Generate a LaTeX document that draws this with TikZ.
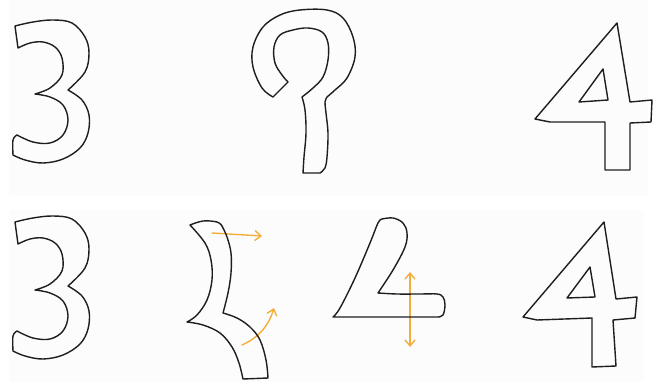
\documentclass[tikz,border=0pt]{standalone}
\usetikzlibrary{arrows.meta}
\definecolor{panelbg}{HTML}{FCFCFC}
\definecolor{inkc}{HTML}{1E1E1E}
\definecolor{orangec}{HTML}{F2AE3C}
\tikzset{
  glyph/.style={draw=inkc, line width=1.4pt, line join=round, line cap=round},
  hint/.style={draw=orangec, line width=1.4pt, line cap=round, -{Straight Barb[length=6pt,width=10pt]}},
  hintboth/.style={draw=orangec, line width=1.4pt, line cap=round, {Straight Barb[length=6pt,width=10pt]}-{Straight Barb[length=6pt,width=10pt]}},
  panel/.style={fill=panelbg, draw=none}
}
\newcommand{\threeglyph}{%
  \draw[glyph] plot[smooth, tension=0.6] coordinates {(15,26) (33,22) (53,20) (72,23) (85,37) (89,53) (85,72) (68,90)}
    -- plot[smooth, tension=0.6] coordinates {(68,90) (82,100) (89,115) (88,133) (80,148) (63,159) (43,163) (25,160) (13,155)}
    -- plot[smooth, tension=0.6] coordinates {(13,155) (13,140) (17,135)}
    -- plot[smooth, tension=0.6] coordinates {(17,135) (33,142) (50,143) (63,135) (68,120) (63,105) (50,97) (35,94)}
    -- plot[smooth, tension=0.6] coordinates {(35,94) (50,88) (62,75) (62,58) (55,47) (43,42) (30,43) (18,48)}
    -- cycle;}
\begin{document}
\begin{tikzpicture}[x=1pt, y=-1pt]
\useasboundingbox (0,0) rectangle (658,382);
\fill[white] (0,0) rectangle (658,382);
\path[panel] (9,0) rectangle (648,196);
\path[panel] (9,210) rectangle (644,382);

% top row
\threeglyph
\begin{scope}[yshift=-196pt]
\threeglyph
\end{scope}

% question-mark-like glyph
\draw[glyph] plot[smooth, tension=0.6] coordinates {(273,97) (262,88) (253,67) (253,47) (263,27) (280,15) (300,10) (327,10) (343,18) (353,37) (355,57) (347,78) (335,90) (327,97)}
  -- plot[smooth, tension=0.6] coordinates {(327,97) (325,102) (326,113) (328,133) (327,157) (325,168) (320,173)}
  -- (303,173)
  -- plot[smooth, tension=0.6] coordinates {(303,173) (304,157) (306,133) (305,110) (302,97)}
  -- plot[smooth, tension=0.6] coordinates {(302,97) (313,88) (323,77) (328,60) (328,43) (322,32) (308,28) (293,30) (280,35) (274,47) (275,63) (282,75) (288,82)}
  -- cycle;

% top 4
\draw[glyph] (617,23) -- (535,119) -- (550,122) -- (605,122) -- (605,170) -- (630,170) -- (630,123) -- (651,122) -- (652,100) -- (630,102) -- cycle;
\draw[glyph] (603,69) -- (579,102) -- (608,100) -- cycle;

% bottom row arrows (under the outlines)
\draw[hint] (212,233) -- (262,236);
\draw[hint] (242,345) .. controls (256,339) and (268,328) .. (274,308);
\draw[hintboth] (410,272) -- (410,347);

% bracket-like glyph
\draw[glyph] plot[smooth, tension=0.6] coordinates {(190,225) (203,221) (217,222) (222,226)}
  -- plot[smooth, tension=0.6] coordinates {(222,226) (227,237) (231,253) (231,273) (228,293) (223,313)}
  -- plot[smooth, tension=0.6] coordinates {(223,313) (237,318) (250,327) (260,340) (266,360) (268,378)}
  -- (243,379)
  -- plot[smooth, tension=0.6] coordinates {(243,379) (239,363) (232,347) (220,333) (203,325) (187,322)}
  -- plot[smooth, tension=0.6] coordinates {(187,322) (197,315) (207,300) (212,280) (211,260) (205,243) (190,225)}
  -- cycle;

% L-like glyph
\draw[glyph] plot[smooth, tension=0.6] coordinates {(382,219) (393,218) (403,223) (407,233) (405,247) (393,270) (378,293)}
  -- plot[smooth, tension=0.6] coordinates {(378,293) (397,294) (420,294) (437,294) (443,297) (445,305) (443,315) (438,317)}
  -- (333,317)
  -- plot[smooth, tension=0.6] coordinates {(333,317) (340,308) (355,278) (370,243) (378,223) (382,219)}
  -- cycle;

% bottom 4
\draw[glyph] (604,222) -- (523,317) -- (537,320) -- (592,318) -- (592,367) -- (616,366) -- (613,320) -- (635,318) -- (637,297) -- (616,299) -- cycle;
\draw[glyph] (590,267) -- (567,298) -- (595,297) -- cycle;
\end{tikzpicture}
\end{document}
